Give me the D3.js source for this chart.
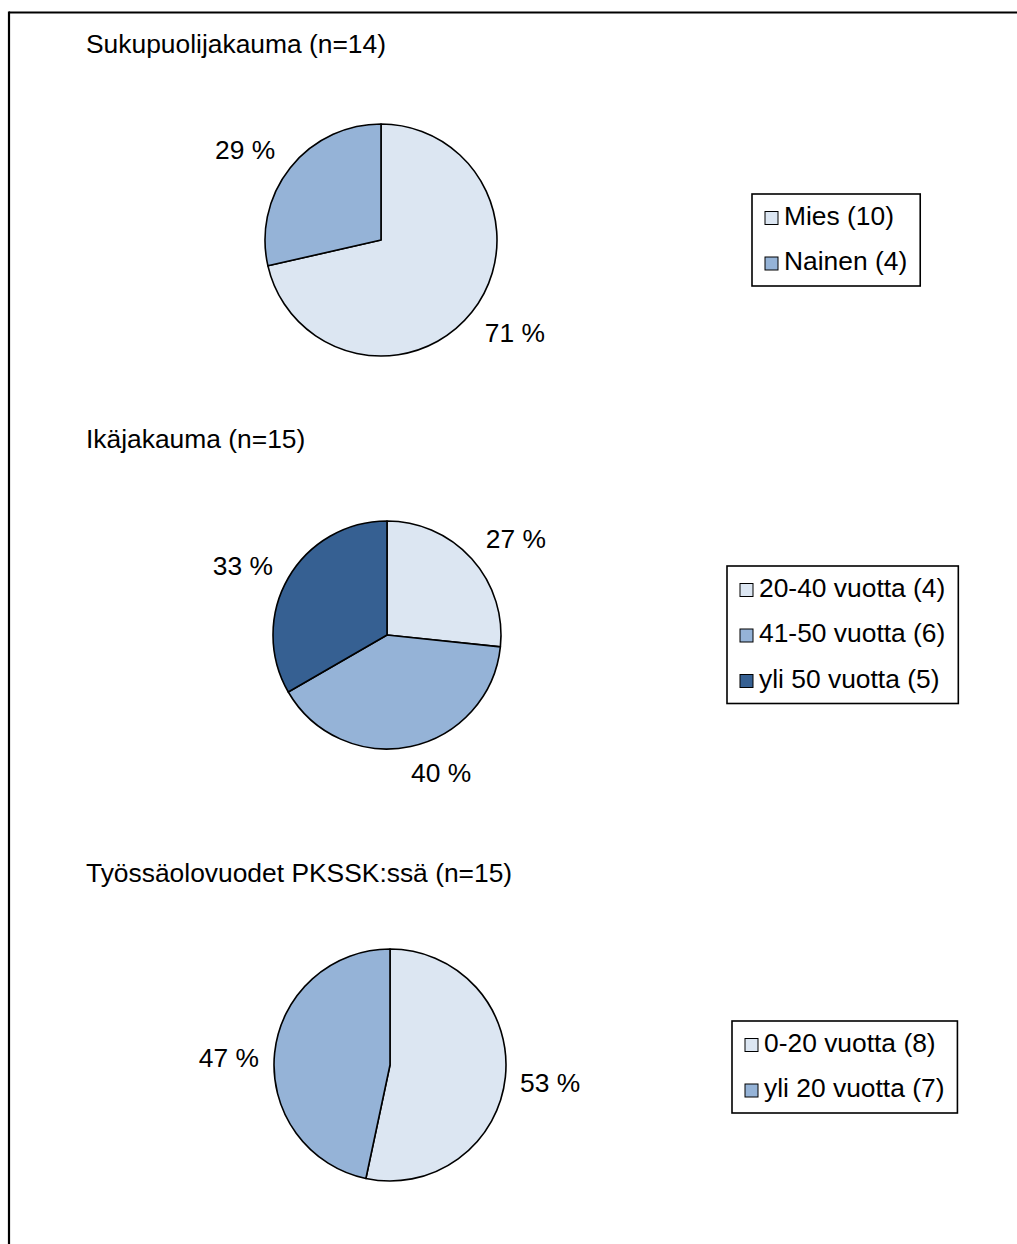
<!DOCTYPE html>
<html>
<head>
<meta charset="utf-8">
<script src="https://cdn.jsdelivr.net/npm/d3@7"></script>
<style>
  html, body { margin: 0; padding: 0; background: #fff; }
  svg { display: block; }
  text { font-family: "Liberation Sans", Arial, sans-serif; fill: #000; }
</style>
</head>
<body>
<svg id="chart" width="1017" height="1244"></svg>
<script>
// Survey respondent background: three pie charts
const titles = [
  "Sukupuolijakauma (n=14)",
  "Ikäjakauma (n=15)",
  "Työssäolovuodet PKSSK:ssä (n=15)"
];

const genderCategories = ["Mies", "Nainen"];
const genderCounts = [10, 4];

const ageCategories = ["20-40 vuotta", "41-50 vuotta", "yli 50 vuotta"];
const ageCounts = [4, 6, 5];

const tenureCategories = ["0-20 vuotta", "yli 20 vuotta"];
const tenureCounts = [8, 7];

const sliceColors = ["#DCE6F2", "#95B3D7", "#366092"];

// Placement of each panel on the page; labelShift fine-tunes each
// percentage label away from its default outside-end position.
const panels = [
  { title: titles[0], categories: genderCategories, counts: genderCounts,
    cx: 381, cy: 240, r: 116, titleY: 53, legendX: 752, legendY: 194,
    labelShift: [[4, 2], [-6, 0]] },
  { title: titles[1], categories: ageCategories, counts: ageCounts,
    cx: 387, cy: 635, r: 114, titleY: 448, legendX: 727, legendY: 566,
    labelShift: [[7, 0], [20, -3], [-2, 2]] },
  { title: titles[2], categories: tenureCategories, counts: tenureCounts,
    cx: 390, cy: 1065, r: 116, titleY: 882, legendX: 732, legendY: 1021,
    labelShift: [[-5, 2], [4, 8]] }
];

const fontSize = 26.4;
const capHeight = fontSize * 0.72;
const labelPad = 20;
const rowGap = 45.5;

const svg = d3.select("#chart");

// Outer frame (open on the right and bottom)
svg.append("line").attr("x1", 9).attr("x2", 1017).attr("y1", 12.5).attr("y2", 12.5)
  .attr("stroke", "#000").attr("stroke-width", 2.2);
svg.append("line").attr("x1", 9).attr("x2", 9).attr("y1", 11.5).attr("y2", 1244)
  .attr("stroke", "#000").attr("stroke-width", 2.2);

const color = d3.scaleOrdinal().range(sliceColors);

panels.forEach(p => {
  const g = svg.append("g");
  const total = d3.sum(p.counts);
  const data = p.categories.map((c, i) => ({ name: c, count: p.counts[i], idx: i }));
  color.domain(p.categories);

  g.append("text")
    .attr("x", 86).attr("y", p.titleY)
    .attr("font-size", fontSize)
    .text(p.title);

  const pie = d3.pie().value(d => d.count).sort(null);
  const arc = d3.arc().innerRadius(0).outerRadius(p.r);
  const arcs = pie(data);

  const pieG = g.append("g").attr("transform", `translate(${p.cx},${p.cy})`);
  pieG.selectAll("path")
    .data(arcs)
    .join("path")
    .attr("d", arc)
    .attr("fill", d => color(d.data.name))
    .attr("stroke", "#000")
    .attr("stroke-width", 1.6)
    .attr("stroke-linejoin", "round");

  // Percentage labels just outside each slice
  arcs.forEach((a, i) => {
    const mid = (a.startAngle + a.endAngle) / 2;
    const s = Math.sin(mid), c = Math.cos(mid);
    const label = Math.round(a.data.count / total * 100) + " %";
    const t = pieG.append("text")
      .attr("font-size", fontSize)
      .attr("text-anchor", "middle")
      .text(label);
    const w = t.node().getComputedTextLength();
    const [dx, dy] = p.labelShift[i];
    const px = s * (p.r + labelPad) + s * w / 2 + dx;
    const py = -c * (p.r + labelPad) - c * capHeight / 2 + dy;
    t.attr("x", px).attr("y", py + capHeight / 2);
  });

  // Legend
  const lg = g.append("g");
  const box = lg.append("rect")
    .attr("x", p.legendX).attr("y", p.legendY)
    .attr("fill", "#fff").attr("stroke", "#000").attr("stroke-width", 1.6);
  let maxW = 0;
  data.forEach((d, i) => {
    const base = p.legendY + 30.5 + i * rowGap;
    lg.append("rect")
      .attr("x", p.legendX + 13).attr("y", base - 13)
      .attr("width", 13).attr("height", 13)
      .attr("fill", color(d.name))
      .attr("stroke", "#000").attr("stroke-width", 1);
    const t = lg.append("text")
      .attr("x", p.legendX + 32).attr("y", base)
      .attr("font-size", fontSize)
      .text(`${d.name} (${d.count})`);
    maxW = Math.max(maxW, t.node().getComputedTextLength());
  });
  box.attr("width", 32 + maxW + 13)
     .attr("height", 30.5 + (data.length - 1) * rowGap + 16);
});
</script>
</body>
</html>
